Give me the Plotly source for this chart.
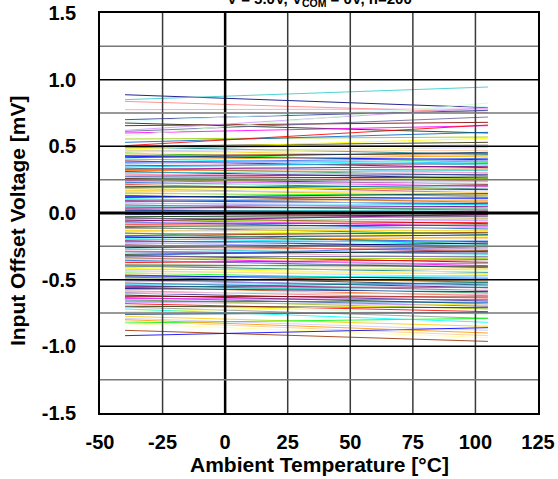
import plotly.graph_objects as go

# ---------------- data ----------------
temps = [-40, 105]   # ambient temperature end points [°C]

# input offset voltage [mV] at -40 °C and at 105 °C, one entry per sample
vos_m40 = [
    0.887, 0.850, 0.837, 0.775, 0.700, 0.687, 0.675, 0.655, 0.612, 0.600, 0.555, 0.530, 0.620, 0.505, 0.580,
    0.500, 0.495, 0.488, 0.480, 0.472, 0.465, 0.458, 0.450, 0.440, 0.432, 0.425, 0.415, 0.405, 0.398, 0.390, 0.380,
    0.372, 0.362, 0.355, 0.345, 0.336, 0.328, 0.318, 0.310, 0.300, 0.292, 0.284, 0.275, 0.268, 0.260, 0.255, 0.250,
    0.245, 0.238, 0.230, 0.222, 0.215, 0.208, 0.200, 0.192, 0.185, 0.178, 0.170, 0.162, 0.155, 0.148, 0.140, 0.132,
    0.125, 0.116, 0.108, 0.100, 0.092, 0.085, 0.076, 0.068, 0.060, 0.052, 0.044, 0.036, 0.028, 0.020, 0.012, 0.004,
    -0.004, -0.012, -0.020, -0.028, -0.036, -0.044, -0.052, -0.060, -0.068, -0.076, -0.085, -0.092, -0.100, -0.108,
    -0.116, -0.125, -0.132, -0.140, -0.148, -0.155, -0.162, -0.170, -0.178, -0.185, -0.192, -0.200, -0.208, -0.215,
    -0.222, -0.230, -0.238, -0.245, -0.150, -0.060,
    -0.252, -0.260, -0.268, -0.275, -0.284, -0.292, -0.300, -0.310, -0.318, -0.328, -0.336, -0.345, -0.355, -0.362,
    -0.372, -0.380, -0.390, -0.398, -0.405, -0.415, -0.425, -0.432, -0.440, -0.450, -0.458, -0.465, -0.472, -0.480,
    -0.488, -0.495, -0.500, -0.320,
    -0.508, -0.516, -0.525, -0.534, -0.542, -0.550, -0.558, -0.566, -0.575, -0.584, -0.592, -0.600, -0.608, -0.616,
    -0.625, -0.634, -0.642, -0.650, -0.660, -0.670, -0.680, -0.690, -0.700, -0.560,
    -0.705, -0.740, -0.775, -0.790, -0.810, -0.825, -0.830, -0.880, -0.920, -0.760, -0.720, -0.800,
]
vos_105 = [
    0.790, 0.945, 0.755, 0.780, 0.770, 0.800, 0.600, 0.680, 0.720, 0.655, 0.570, 0.605, 0.790, 0.660, 0.825,
    0.530, 0.440, 0.510, 0.560, 0.420, 0.490, 0.470, 0.380, 0.500, 0.445, 0.400, 0.455, 0.360, 0.430, 0.340, 0.410,
    0.395, 0.300, 0.370, 0.385, 0.280, 0.350, 0.330, 0.260, 0.320, 0.240, 0.305, 0.290, 0.220, 0.270, 0.215, 0.250,
    0.200, 0.260, 0.180, 0.235, 0.150, 0.225, 0.175, 0.205, 0.120, 0.190, 0.140, 0.165, 0.100, 0.130, 0.155, 0.080,
    0.110, 0.145, 0.060, 0.095, 0.070, 0.115, 0.040, 0.085, 0.020, 0.065, 0.030, 0.050, -0.010, 0.010, 0.025, -0.030,
    -0.040, 0.005, -0.060, -0.015, -0.080, -0.025, -0.100, -0.045, -0.120, -0.055, -0.070, -0.140, -0.090, -0.160,
    -0.110, -0.175, -0.130, -0.105, -0.190, -0.150, -0.200, -0.145, -0.215, -0.165, -0.230, -0.185, -0.250, -0.210,
    -0.270, -0.205, -0.290, -0.240, -0.235, -0.010,
    -0.280, -0.225, -0.310, -0.260, -0.335, -0.300, -0.355, -0.285, -0.370, -0.325, -0.395, -0.340, -0.410, -0.380,
    -0.350, -0.430, -0.400, -0.445, -0.375, -0.460, -0.420, -0.480, -0.455, -0.500, -0.435, -0.520, -0.490, -0.540,
    -0.470, -0.510, -0.560, -0.250,
    -0.545, -0.490, -0.580, -0.530, -0.600, -0.560, -0.620, -0.590, -0.555, -0.640, -0.610, -0.660, -0.575, -0.680,
    -0.630, -0.700, -0.650, -0.720, -0.670, -0.690, -0.740, -0.760, -0.710, -0.520,
    -0.790, -0.680, -0.850, -0.880, -0.920, -0.790, -0.935, -0.963, -0.860, -0.745, -0.820, -0.900,
]

x_tick_vals = [-50, -25, 0, 25, 50, 75, 100, 125]
x_tick_labels = ["-50", "-25", "0", "25", "50", "75", "100", "125"]
y_tick_vals = [-1.5, -1.0, -0.5, 0.0, 0.5, 1.0, 1.5]
y_tick_labels = ["-1.5", "-1.0", "-0.5", "0.0", "0.5", "1.0", "1.5"]
x_grid = [-25, 0, 25, 50, 75, 100]
y_major = [-1.0, -0.5, 0.0, 0.5, 1.0]
y_minor = [-1.25, -0.75, -0.25, 0.25, 0.75, 1.25]

title_text = "V = 5.0V, V<sub>COM</sub> = 0V, n=200"
x_title = "Ambient Temperature [°C]"
y_title = "Input Offset Voltage [mV]"

# ---------------- style ----------------
palette = ["#000080", "#FF00FF", "#FFFF00", "#00FFFF", "#800080", "#800000", "#008080", "#0000FF",
           "#00CCFF", "#CCFFFF", "#CCFFCC", "#FFFF99", "#99CCFF", "#FF99CC", "#CC99FF", "#FFCC99",
           "#3366FF", "#33CCCC", "#99CC00", "#FFCC00", "#FF9900", "#FF6600", "#666699", "#969696",
           "#003366", "#339966", "#003300", "#333300", "#993300", "#993366", "#333399", "#FF0000",
           "#00FF00", "#9999FF", "#FF8080", "#0066CC", "#CCCCFF", "#660066"]
FONT = "Liberation Sans, Arial, sans-serif"

fig = go.Figure()
n = len(vos_m40)
for i in range(n):
    fig.add_trace(go.Scatter(
        x=temps, y=[vos_m40[i], vos_105[i]], mode="lines",
        line=dict(color=palette[(i * 17) % len(palette)], width=1),
        opacity=0.85, showlegend=False, hoverinfo="skip"))

shapes = []
for xv in x_grid:
    shapes.append(dict(type="line", xref="x", yref="paper", x0=xv, x1=xv, y0=0, y1=1, layer="above",
                       line=dict(color="#000000" if xv == 0 else "#3a3a3a", width=2.5 if xv == 0 else 1.5)))
for yv in y_minor:
    shapes.append(dict(type="line", xref="paper", yref="y", x0=0, x1=1, y0=yv, y1=yv, layer="above",
                       line=dict(color="#777777", width=1.5)))
for yv in y_major:
    shapes.append(dict(type="line", xref="paper", yref="y", x0=0, x1=1, y0=yv, y1=yv, layer="above",
                       line=dict(color="#000000", width=3 if yv == 0 else 1.5)))

fig.update_layout(
    template="none",
    width=558, height=479,
    margin=dict(l=100, r=20, t=13, b=66, pad=0, autoexpand=False),
    paper_bgcolor="white", plot_bgcolor="white",
    font=dict(family=FONT, color="black"),
    shapes=shapes,
    showlegend=False,
    annotations=[
        dict(text="<b>" + title_text + "</b>", xref="paper", yref="paper", x=0.5, y=1, yshift=2,
             xanchor="center", yanchor="bottom", showarrow=False, font=dict(size=15, family=FONT)),
        dict(text="<b>" + x_title + "</b>", xref="paper", yref="paper", x=0.5, y=-0.129,
             xanchor="center", yanchor="middle", showarrow=False, font=dict(size=21, family=FONT)),
        dict(text="<b>" + y_title + "</b>", xref="paper", yref="paper", x=-0.188, y=0.479, textangle=-90,
             xanchor="center", yanchor="middle", showarrow=False, font=dict(size=21, family=FONT)),
    ],
)
fig.update_xaxes(range=[-50, 125], tickvals=x_tick_vals, ticktext=["<b>%s</b>" % t for t in x_tick_labels],
                 showgrid=False, zeroline=False, showline=True, linecolor="black", linewidth=1.5,
                 mirror=True, ticks="", ticklabelstandoff=10, tickfont=dict(size=20, family=FONT),
                 layer="above traces", fixedrange=True, automargin=False)
fig.update_yaxes(range=[-1.5, 1.5], tickvals=y_tick_vals, ticktext=["<b>%s</b>" % t for t in y_tick_labels],
                 showgrid=False, zeroline=False, showline=True, linecolor="black", linewidth=1.5,
                 mirror=True, ticks="", ticklabelstandoff=18, tickfont=dict(size=20, family=FONT),
                 layer="above traces", fixedrange=True, automargin=False)

fig.write_html("out.html")
